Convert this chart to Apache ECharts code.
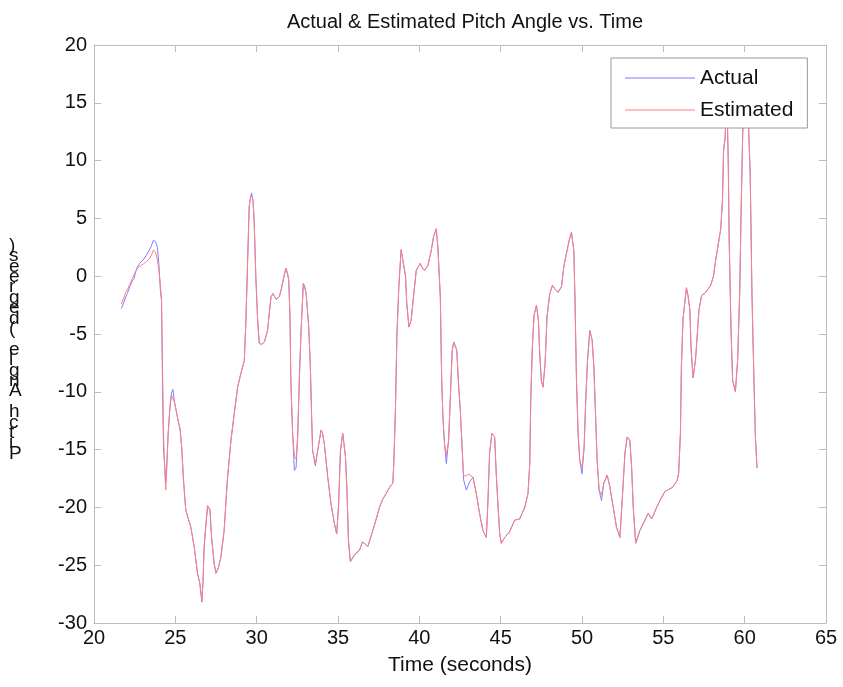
<!DOCTYPE html>
<html>
<head>
<meta charset="utf-8">
<script src="https://cdn.jsdelivr.net/npm/echarts@6/dist/echarts.min.js"></script>
<style>
html,body{margin:0;padding:0;background:#fff;}
#chart{width:843px;height:687px;}
</style>
</head>
<body>
<div id="chart"></div>
<script>
// ---- data ----
var time = [
21.68,21.8,21.95,22.05,22.2,22.36,22.46,22.55,22.67,22.87,
23.08,23.25,23.39,23.52,23.65,23.78,23.9,24.0,24.08,24.15,
24.2,24.27,24.35,24.41,24.48,24.56,24.66,24.76,24.85,24.95,
25.13,25.3,25.4,25.5,25.64,25.8,25.95,26.16,26.36,26.5,
26.63,26.7,26.77,26.88,26.98,27.13,27.23,27.39,27.5,27.65,
27.8,28.0,28.2,28.42,28.62,28.83,29.03,29.24,29.34,29.44,
29.54,29.62,29.69,29.78,29.85,29.95,30.06,30.16,30.3,30.47,
30.67,30.88,31.0,31.19,31.39,31.5,31.65,31.8,31.9,31.97,
32.05,32.1,32.21,32.32,32.42,32.52,32.62,32.73,32.87,32.95,
33.04,33.2,33.3,33.38,33.44,33.61,33.75,33.96,34.05,34.16,
34.37,34.57,34.78,34.92,35.04,35.15,35.29,35.46,35.56,35.64,
35.76,36.01,36.32,36.5,36.63,36.83,37.14,37.35,37.55,37.75,
37.96,38.2,38.37,38.43,38.53,38.62,38.74,38.88,39.0,39.15,
39.23,39.36,39.5,39.64,39.81,40.05,40.2,40.32,40.52,40.73,
40.87,41.04,41.14,41.29,41.37,41.45,41.55,41.66,41.8,41.9,
42.02,42.12,42.3,42.41,42.52,42.64,42.72,42.89,43.0,43.09,
43.3,43.5,43.7,43.91,44.12,44.22,44.32,44.46,44.63,44.73,
44.83,44.94,45.04,45.25,45.55,45.86,46.17,46.48,46.68,46.79,
46.85,46.95,47.05,47.2,47.32,47.4,47.5,47.6,47.73,47.85,
48.02,48.18,48.33,48.53,48.74,48.88,49.05,49.21,49.35,49.5,
49.57,49.66,49.76,49.86,50.0,50.13,50.23,50.34,50.48,50.62,
50.73,50.83,50.93,51.05,51.2,51.34,51.55,51.71,51.92,52.12,
52.33,52.47,52.64,52.78,52.94,53.05,53.15,53.3,53.56,53.87,
54.07,54.28,54.59,54.79,55.11,55.53,55.84,55.94,56.05,56.11,
56.21,56.42,56.52,56.63,56.71,56.83,56.98,57.08,57.19,57.35,
57.6,57.91,58.08,58.23,58.37,58.53,58.64,58.7,58.8,58.86,
58.93,58.99,59.05,59.16,59.26,59.43,59.57,59.7,59.78,59.88,
59.95,60.15,60.24,60.34,60.45,60.57,60.66,60.76
];

var actual = [
-2.8,-2.4,-1.8,-1.5,-0.9,-0.4,-0.2,0.3,0.8,1.2,
1.5,1.9,2.25,2.6,3.1,3.0,2.5,0.8,-1.2,-2.1,
-8.1,-14.8,-16.5,-17.8,-16.0,-13.6,-11.5,-10.1,-9.8,-10.9,
-12.2,-13.3,-15.0,-17.6,-20.2,-21.0,-21.7,-23.4,-25.7,-26.5,
-28.2,-26.5,-23.4,-21.5,-20.0,-20.2,-22.6,-24.9,-25.7,-25.2,
-24.3,-22.0,-17.6,-14.2,-11.9,-9.6,-8.4,-7.3,-3.8,1.1,
6.0,6.8,7.2,6.5,4.6,-0.1,-3.8,-5.8,-5.9,-5.7,
-4.7,-1.8,-1.5,-2.0,-1.8,-1.2,-0.2,0.7,0.2,-0.3,
-3.5,-9.0,-13.6,-16.8,-16.6,-13.9,-9.0,-4.7,-0.6,-0.9,
-1.5,-4.4,-7.8,-12.2,-15.1,-16.4,-15.1,-13.3,-13.6,-14.5,
-17.4,-19.7,-21.4,-22.3,-19.7,-15.1,-13.6,-15.6,-18.8,-22.8,
-24.7,-24.1,-23.7,-23.0,-23.1,-23.4,-22.0,-21.0,-20.0,-19.3,
-18.8,-18.2,-17.9,-16.2,-11.6,-5.2,-0.9,2.3,2.2,0.0,
-2.4,-4.4,-3.8,-1.8,0.5,1.1,0.7,0.5,0.9,2.2,
3.4,4.1,2.5,-1.8,-8.7,-12.2,-14.5,-16.2,-14.2,-10.7,
-6.4,-5.7,-6.4,-9.3,-11.6,-15.1,-17.6,-18.5,-18.5,-17.8,
-17.4,-18.8,-20.5,-22.0,-22.6,-19.4,-15.3,-13.6,-13.9,-17.1,
-19.7,-22.3,-23.1,-22.6,-22.1,-21.1,-21.0,-20.0,-18.8,-16.2,
-10.7,-6.1,-3.4,-2.5,-3.8,-6.7,-9.0,-9.6,-7.6,-3.5,
-1.5,-0.8,-1.1,-1.4,-0.9,0.8,2.0,3.1,3.8,2.2,
-2.1,-9.0,-13.6,-15.9,-17.1,-14.8,-10.7,-7.3,-4.7,-5.5,
-7.8,-11.9,-15.9,-18.5,-19.4,-17.9,-17.2,-18.2,-20.0,-21.7,
-22.6,-19.4,-15.3,-13.9,-14.2,-16.5,-20.0,-23.1,-22.0,-21.1,
-20.5,-21.0,-20.0,-19.4,-18.6,-18.3,-17.7,-17.1,-13.6,-7.8,
-3.7,-1.0,-1.7,-2.9,-6.4,-8.8,-7.2,-5.2,-2.9,-1.7,
-1.4,-0.8,0.0,1.5,2.7,4.1,6.7,10.8,12.0,14.5,
14.0,9.9,3.0,-4.6,-9.0,-10.0,-7.2,-1.1,5.6,12.3,
15.0,15.0,12.9,8.8,-1.7,-9.0,-13.9,-16.6
];

var estimated = [
-2.4,-2.0,-1.4,-1.2,-0.7,-0.2,0.1,0.4,0.7,0.9,
1.1,1.3,1.5,1.8,2.25,2.1,1.4,0.4,-0.8,-2.0,
-6.5,-13.5,-16.8,-18.5,-16.5,-13.6,-11.5,-10.3,-10.2,-10.9,
-12.2,-13.3,-15.0,-17.6,-20.2,-21.0,-21.7,-23.4,-25.7,-26.5,
-28.0,-26.5,-23.4,-21.5,-19.8,-20.2,-22.6,-24.9,-25.7,-25.2,
-24.3,-22.0,-17.6,-14.2,-11.9,-9.6,-8.4,-7.3,-3.8,1.1,
6.0,6.8,7.0,6.5,4.6,-0.1,-3.8,-5.8,-5.9,-5.7,
-4.7,-1.8,-1.5,-2.0,-1.8,-1.2,-0.2,0.7,0.2,-0.3,
-3.5,-9.0,-13.6,-15.6,-15.8,-13.9,-9.0,-4.7,-0.6,-0.9,
-1.5,-4.4,-7.8,-12.2,-15.1,-16.2,-15.1,-13.3,-13.6,-14.5,
-17.4,-19.7,-21.4,-22.3,-19.7,-15.1,-13.6,-15.6,-18.8,-22.8,
-24.7,-24.1,-23.7,-23.0,-23.1,-23.4,-22.0,-21.0,-20.0,-19.3,
-18.8,-18.2,-17.9,-16.2,-11.6,-5.2,-0.9,2.3,2.2,0.0,
-2.4,-4.4,-3.8,-1.8,0.5,1.1,0.7,0.5,0.9,2.2,
3.4,4.1,2.5,-1.8,-8.7,-12.2,-14.5,-15.5,-14.2,-10.7,
-6.4,-5.7,-6.4,-9.3,-11.6,-15.1,-17.2,-17.3,-17.1,-17.2,
-17.4,-18.8,-20.5,-22.0,-22.6,-19.4,-15.3,-13.6,-13.9,-17.1,
-19.7,-22.3,-23.1,-22.6,-22.1,-21.1,-21.0,-20.0,-18.8,-16.2,
-10.7,-6.1,-3.4,-2.5,-3.8,-6.7,-9.0,-9.6,-7.6,-3.5,
-1.5,-0.8,-1.1,-1.4,-0.9,0.8,2.0,3.1,3.8,2.2,
-2.1,-9.0,-13.6,-15.9,-16.6,-14.8,-10.7,-7.3,-4.7,-5.5,
-7.8,-11.9,-15.9,-18.5,-18.9,-17.9,-17.2,-18.2,-20.0,-21.7,
-22.6,-19.4,-15.3,-13.9,-14.2,-16.5,-20.0,-23.1,-22.0,-21.1,
-20.5,-21.0,-20.0,-19.4,-18.6,-18.3,-17.7,-17.1,-13.6,-7.8,
-3.7,-1.0,-1.7,-2.9,-6.4,-8.8,-7.2,-5.2,-2.9,-1.7,
-1.4,-0.8,0.0,1.5,2.7,4.1,6.7,10.8,12.0,14.5,
14.0,9.9,3.0,-4.6,-9.0,-10.0,-7.2,-1.1,5.6,12.3,
15.0,15.0,12.9,8.8,-1.7,-9.0,-13.9,-16.6
];

var seriesNames = ['Actual', 'Estimated'];
var xTicks = {min: 20, max: 65, step: 5};
var yTicks = {min: -30, max: 20, step: 5};
var titleText = 'Actual & Estimated Pitch Angle vs. Time';
var xLabel = 'Time (seconds)';
var yLabel = 'Pitch Angle (degrees)';

// ---- chart ----
var FONT = '"Liberation Sans", Arial, Helvetica, sans-serif';
var frameColor = '#bcbcbc';

function pairs(vals) {
  return time.map(function (t, i) { return [t, vals[i]]; });
}

// stacked, upright characters of the y label (top to bottom)
var yLabelStacked = yLabel.split('').reverse().join('\n');

var chart = echarts.init(document.getElementById('chart'), null, {renderer: 'canvas'});

function axisCommon(showLabels) {
  return {
    axisLine: {show: true, onZero: false, lineStyle: {color: frameColor, width: 1}},
    axisTick: {show: true, inside: true, length: 7, lineStyle: {color: frameColor, width: 1}},
    splitLine: {show: false},
    axisLabel: {show: showLabels, color: '#111', fontSize: 20, fontFamily: FONT}
  };
}

var xBottom = Object.assign({type: 'value', position: 'bottom', min: xTicks.min, max: xTicks.max, interval: xTicks.step,
  name: xLabel, nameLocation: 'middle', nameGap: 32,
  nameTextStyle: {fontSize: 21, color: '#111', fontFamily: FONT}}, axisCommon(true));
xBottom.axisLabel.margin = 5;
var xTop = Object.assign({type: 'value', position: 'top', min: xTicks.min, max: xTicks.max, interval: xTicks.step}, axisCommon(false));
var yLeft = Object.assign({type: 'value', position: 'left', min: yTicks.min, max: yTicks.max, interval: yTicks.step}, axisCommon(true));
yLeft.axisLabel.margin = 7;
var yRight = Object.assign({type: 'value', position: 'right', min: yTicks.min, max: yTicks.max, interval: yTicks.step}, axisCommon(false));

var option = {
  backgroundColor: '#ffffff',
  animation: false,
  textStyle: {fontFamily: FONT},
  title: {
    text: titleText,
    left: 460,
    textAlign: 'center',
    top: 7,
    textStyle: {fontSize: 20, fontWeight: 'normal', color: '#111', fontFamily: FONT}
  },
  grid: {left: 94, right: 17, top: 45, bottom: 64, containLabel: false},
  xAxis: [xBottom, xTop],
  yAxis: [yLeft, yRight],
  legend: {
    data: seriesNames,
    orient: 'vertical',
    left: 611,
    top: 58,
    padding: [8, 14, 6, 14],
    itemGap: 8,
    itemWidth: 70,
    itemHeight: 1.2,
    icon: 'rect',
    selectedMode: false,
    backgroundColor: '#ffffff',
    borderColor: '#9a9a9a',
    borderWidth: 1,
    z: 10,
    textStyle: {fontSize: 21, lineHeight: 24, color: '#111', fontFamily: FONT}
  },
  graphic: [{
    type: 'text',
    left: 9,
    top: 236,
    style: {
      text: yLabelStacked,
      font: '19px ' + FONT,
      lineHeight: 10.4,
      fill: '#111',
      align: 'center'
    }
  }],
  series: [
    {
      name: seriesNames[0], type: 'line', xAxisIndex: 0, yAxisIndex: 0,
      data: pairs(actual), symbol: 'none', smooth: false,
      lineStyle: {color: '#7f7fff', width: 1}, itemStyle: {color: '#7f7fff'},
      z: 2
    },
    {
      name: seriesNames[1], type: 'line', xAxisIndex: 0, yAxisIndex: 0,
      data: pairs(estimated), symbol: 'none', smooth: false,
      lineStyle: {color: '#ff8080', width: 1}, itemStyle: {color: '#ff8080'},
      z: 3
    }
  ]
};
chart.setOption(option);
</script>
</body>
</html>
